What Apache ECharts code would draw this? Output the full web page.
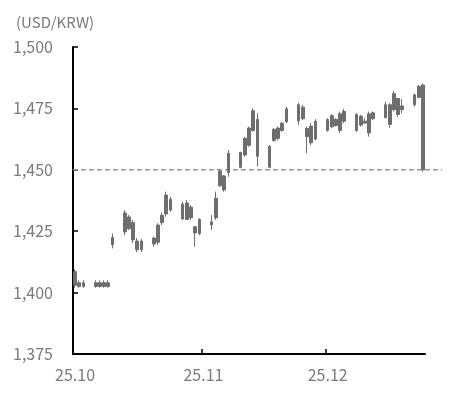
<!DOCTYPE html>
<html>
<head>
<meta charset="utf-8">
<script src="https://cdn.jsdelivr.net/npm/echarts@6/dist/echarts.min.js"></script>
<style>
html,body{margin:0;padding:0;background:#fff;}
#chart{width:462px;height:393px;}
</style>
</head>
<body>
<div id="chart"></div>
<script>
// Calendar days shown on the category axis (2025-10-01 .. 2025-12-24)
const startDate = '2025-10-01';
const endDate = '2025-12-24';
// Trading days and their [open, close, low, high]
const tradeDates = [
  '2025-10-01','2025-10-02','2025-10-03','2025-10-06','2025-10-07','2025-10-08','2025-10-09','2025-10-10',
  '2025-10-13','2025-10-14','2025-10-15','2025-10-16','2025-10-17',
  '2025-10-20','2025-10-21','2025-10-22','2025-10-23','2025-10-24',
  '2025-10-27','2025-10-28','2025-10-29','2025-10-30','2025-10-31',
  '2025-11-03','2025-11-04','2025-11-05','2025-11-06','2025-11-07',
  '2025-11-10','2025-11-11','2025-11-12','2025-11-13','2025-11-14',
  '2025-11-17','2025-11-18','2025-11-19','2025-11-20','2025-11-21',
  '2025-11-24','2025-11-25','2025-11-26','2025-11-27','2025-11-28',
  '2025-12-01','2025-12-02','2025-12-03','2025-12-04','2025-12-05',
  '2025-12-08','2025-12-09','2025-12-10','2025-12-11','2025-12-12',
  '2025-12-15','2025-12-16','2025-12-17','2025-12-18','2025-12-19',
  '2025-12-22','2025-12-23','2025-12-24'
];
const openVals = [
  1408.5,1404,1404,1404,1404,1404,1404,1419.5,
  1424.7,1426.0,1428.5,1421.0,1417.5,
  1419.8,1420.5,1428.5,1432.0,1438.0,
  1436.0,1429.8,1434.8,1426.8,1424.0,
  1428.8,1430.5,1443.5,1447.5,1448.8,
  1451.0,1456.0,1460.0,1466.0,1470.5,
  1451.0,1466.5,1462.8,1466.0,1469.5,
  1476.5,1475.5,1466.8,1461.0,1462.5,
  1466.0,1467.5,1470.5,1466.0,1469.8,
  1472.5,1468.2,1469.8,1465.0,1470.8,
  1476.5,1468.5,1474.5,1479.0,1474.5,
  1476.5,1479.5,1484.5
];
const closeVals = [
  1403,1402.5,1402.5,1402.5,1402.5,1402.5,1402.5,1422.5,
  1432.4,1430.8,1421.5,1417.5,1421.0,
  1422.2,1427.5,1431.5,1439.7,1433.6,
  1430.0,1436.5,1430.5,1424.3,1429.8,
  1427.6,1438.4,1449.5,1441.8,1456.7,
  1457.0,1462.8,1467.0,1474.0,1455.5,
  1459.5,1462.0,1467.0,1469.0,1474.8,
  1470.0,1470.8,1463.5,1467.8,1469.8,
  1470.5,1472.0,1468.0,1472.8,1473.8,
  1466.0,1471.8,1469.0,1472.8,1473.2,
  1471.2,1476.5,1481.0,1472.5,1476.0,
  1480.5,1484.0,1450.0
];
const lowVals = [
  1402,1402,1402,1402,1402,1402,1402,1418.0,
  1423.4,1425.5,1420.2,1416.5,1416.5,
  1418.7,1419.4,1427.5,1431.0,1432.9,
  1429.6,1429.6,1429.6,1418.7,1423.4,
  1425.5,1429.6,1443.1,1441.1,1447.2,
  1450.6,1455.3,1459.4,1465.5,1451.3,
  1450.6,1461.4,1462.0,1465.5,1469.0,
  1468.2,1470.3,1456.7,1460.1,1462.0,
  1465.5,1466.9,1467.6,1464.9,1469.0,
  1465.5,1467.6,1469.0,1463.5,1470.3,
  1471.0,1467.1,1473.7,1471.6,1473.0,
  1475.7,1479.1,1449.2
];
const highVals = [
  1409.5,1405,1405,1405,1405,1405,1405,1424.0,
  1433.6,1431.6,1429.6,1422.2,1421.8,
  1422.8,1428.2,1432.5,1441.1,1439.0,
  1437.0,1437.7,1435.7,1427.1,1430.3,
  1431.6,1441.1,1450.0,1447.9,1458.0,
  1457.4,1463.5,1467.6,1475.0,1473.0,
  1460.1,1466.9,1467.6,1469.6,1475.7,
  1477.3,1476.4,1467.6,1469.0,1470.6,
  1471.0,1472.7,1471.0,1473.7,1474.8,
  1473.0,1472.3,1471.0,1473.7,1473.7,
  1477.7,1477.1,1482.1,1479.4,1478.8,
  1481.1,1484.5,1485.2
];
const yTicks = [1375, 1400, 1425, 1450, 1475, 1500];
const refLevel = 1450;
const unitLabel = '(USD/KRW)';

// build daily category list
function fmt(d){
  const m = String(d.getUTCMonth()+1).padStart(2,'0');
  const day = String(d.getUTCDate()).padStart(2,'0');
  return d.getUTCFullYear()+'-'+m+'-'+day;
}
function dayRange(from, count){
  const out = [];
  const d = new Date(from+'T00:00:00Z');
  for (let i = 0; i < count; i++) { out.push(fmt(d)); d.setUTCDate(d.getUTCDate()+1); }
  return out;
}
const days = [];
for (let d = new Date(startDate+'T00:00:00Z'); fmt(d) <= endDate; d.setUTCDate(d.getUTCDate()+1)) {
  days.push(fmt(d));
}
const lookup = {};
tradeDates.forEach((t,i)=>{ lookup[t] = [openVals[i], closeVals[i], lowVals[i], highVals[i]]; });
const candleData = days.map(d => lookup[d] ? lookup[d] : '-');

const isMonthStart = (idx, val) => val.slice(8) === '01';

// layout
const W = 462, gridLeft = 73, gridRight = 37, gridTop = 47, gridBottom = 39;
const plotW = W - gridLeft - gridRight;
const dayW = plotW / days.length;
// a tick-only category axis that runs past the canvas edge, so its closing tick stays off-screen
const tickDays = dayRange(startDate, days.length + 30);
const tickGridWidth = dayW * tickDays.length;
const isInnerMonthStart = (idx, val) => idx > 0 && val <= endDate && val.slice(8) === '01';

const txtColor = '#7a7a7a';
const fontFam = '"Noto Sans CJK KR","Noto Sans",sans-serif';
const candleColor = '#6e6e6e';

const chart = echarts.init(document.getElementById('chart'), null, {renderer:'canvas'});
chart.setOption({
  animation: false,
  backgroundColor: '#fff',
  title: {
    text: unitLabel, left: 11, top: 10,
    textStyle: {color: txtColor, fontSize: 15, fontWeight: 'normal', fontFamily: fontFam}
  },
  grid: [
    {left: gridLeft, right: gridRight, top: gridTop, bottom: gridBottom, outerBoundsMode: 'none'},
    {left: gridLeft, right: 20, top: gridTop, bottom: gridBottom, outerBoundsMode: 'none'},
    {left: gridLeft, width: tickGridWidth, top: gridTop, bottom: gridBottom, outerBoundsMode: 'none'}
  ],
  xAxis: [{
    type: 'category',
    data: days,
    boundaryGap: true,
    gridIndex: 0,
    axisLine: {show: true, lineStyle: {color: '#000', width: 2}},
    axisTick: {show: false},
    axisLabel: {
      interval: isMonthStart, color: txtColor, fontSize: 16, fontFamily: fontFam, margin: 13,
      formatter: v => v.slice(2,4) + '.' + v.slice(5,7)
    },
    splitLine: {show: false}
  }, {
    type: 'value', gridIndex: 1, min: 0, max: 1, show: false
  }, {
    type: 'category', gridIndex: 2, position: 'bottom',
    data: tickDays, boundaryGap: true,
    axisLine: {show: false},
    axisLabel: {show: false},
    axisTick: {show: true, inside: true, length: 5, interval: isInnerMonthStart, lineStyle: {color: '#000', width: 1.5}},
    splitLine: {show: false}
  }],
  yAxis: [{
    type: 'value', gridIndex: 0,
    min: yTicks[0], max: yTicks[yTicks.length-1], interval: 25,
    axisLine: {show: true, lineStyle: {color: '#000', width: 2}},
    axisTick: {show: true, inside: true, length: 5, lineStyle: {color: '#000', width: 1.5}},
    axisLabel: {
      color: txtColor, fontSize: 16, fontFamily: fontFam, margin: 20,
      formatter: v => v.toLocaleString('en-US')
    },
    splitLine: {show: false}
  }, {
    type: 'value', gridIndex: 1,
    min: yTicks[0], max: yTicks[yTicks.length-1], show: false
  }, {
    type: 'value', gridIndex: 2,
    min: yTicks[0], max: yTicks[yTicks.length-1], show: false
  }],
  series: [{
    type: 'line',
    xAxisIndex: 1, yAxisIndex: 1,
    data: [[0, refLevel], [1, refLevel]],
    symbol: 'none',
    lineStyle: {color: '#9a9a9a', width: 1.5, type: [5, 3]},
    z: 1,
    silent: true
  }, {
    type: 'candlestick',
    xAxisIndex: 0, yAxisIndex: 0,
    data: candleData,
    barWidth: 3,
    itemStyle: {color: candleColor, color0: candleColor, borderColor: candleColor, borderColor0: candleColor, borderWidth: 1},
    z: 3
  }]
});
</script>
</body>
</html>
